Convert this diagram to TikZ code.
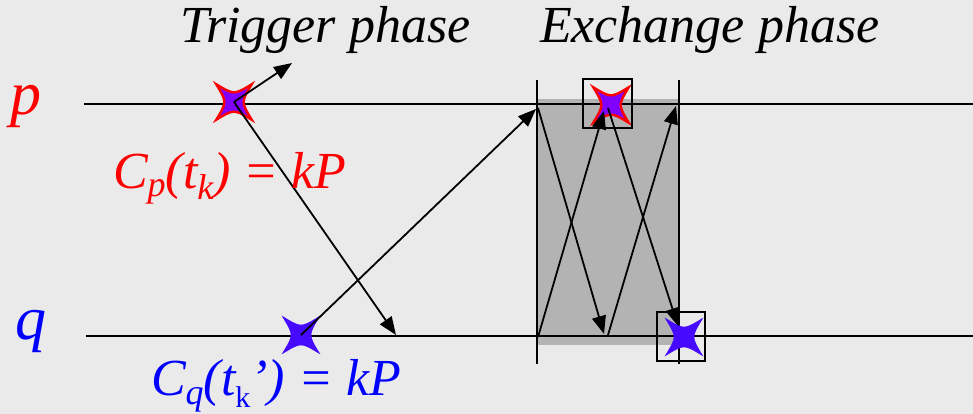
\documentclass[tikz,border=0pt]{standalone}
\usepackage{fontspec}
\setmainfont{LiberationSerif}[Extension=.ttf, UprightFont=*-Regular, ItalicFont=*-Italic, BoldFont=*-Bold]
\usetikzlibrary{arrows.meta}
\definecolor{bgmarble}{RGB}{234,234,234}
\definecolor{exgray}{RGB}{179,179,179}
\definecolor{starviolet}{RGB}{128,0,255}
\definecolor{starblue}{RGB}{70,10,255}
\definecolor{lblred}{RGB}{255,0,0}
\definecolor{lblblue}{RGB}{0,0,255}
\newcommand\subsc[2][10]{\raisebox{-#1pt}{\fontsize{36}{36}\selectfont #2}}
\tikzset{
  lbl/.style={inner sep=0pt, outer sep=0pt, anchor=base west},
  ttl/.style={lbl, font=\fontsize{52}{52}\selectfont\itshape},
  timeline/.style={line width=1.7pt},
  msg/.style={line width=1.8pt, -{Triangle[length=18pt,width=14pt]}},
  framebox/.style={line width=1.7pt},
  pics/star4/.style={code={
    \path[pic actions] (45:25) .. controls (0:7) and (0:7) .. (-45:25)
      .. controls (-90:7) and (-90:7) .. (-135:25)
      .. controls (180:7) and (180:7) .. (135:25)
      .. controls (90:7) and (90:7) .. cycle;}},
  redstar/.style={draw=red, fill=starviolet, line width=2.4pt, line join=miter},
  bluestar/.style={draw=starblue, fill=starblue, line width=1.2pt}
}
\begin{document}
\begin{tikzpicture}[x=1pt,y=-1pt]
\useasboundingbox (0,0) rectangle (973,414);
\fill[bgmarble] (0,0) rectangle (973,414);
% exchange area
\fill[exgray] (537,99) rectangle (679,345);
% coordinates
\coordinate (pL) at (84,104);
\coordinate (pR) at (973,104);
\coordinate (qL) at (86,336);
\coordinate (qR) at (973,336);
\coordinate (sp) at (234,102);
\coordinate (sq) at (301,335);
\coordinate (sx) at (611,105);
\coordinate (sy) at (684,337);
\coordinate (ptr) at (292,63);
\coordinate (qhit) at (396,335);
\coordinate (pex) at (536,109);
\coordinate (vLt) at (537,80);
\coordinate (vLb) at (537,364);
\coordinate (vRt) at (679,80);
\coordinate (vRb) at (679,364);
\coordinate (aStart1) at (538,108);
\coordinate (aEnd1) at (604,334);
\coordinate (aStart2) at (538,337);
\coordinate (aEnd2) at (604,111);
\coordinate (aStart3) at (608,335);
\coordinate (aEnd3) at (676,106);
\coordinate (aStart4) at (608,108);
\coordinate (aEnd4) at (678,326);
% time lines
\draw[timeline] (pL) -- (pR);
\draw[timeline] (qL) -- (qR);
\draw[timeline] (vLt) -- (vLb);
\draw[timeline] (vRt) -- (vRb);
% stars
\pic[redstar] at (sp) {star4};
\pic[bluestar] at (sq) {star4};
\pic[redstar] at (sx) {star4};
\pic[bluestar] at (sy) {star4};
% boxes
\draw[framebox] (583,79) rectangle (632,128);
\draw[framebox] (657,312) rectangle (705,361);
% messages
\draw[msg] (sp) -- (ptr);
\draw[msg] (sp) -- (qhit);
\draw[msg] (sq) -- (pex);
\draw[msg] (aStart1) -- (aEnd1);
\draw[msg] (aStart2) -- (aEnd2);
\draw[msg] (aStart3) -- (aEnd3);
\draw[msg] (aStart4) -- (aEnd4);
% labels
\node[ttl] (trig) at (180,43) {Trigger phase};
\node[ttl] (exch) at (540,43) {Exchange phase};
\node[lbl, text=lblred, font=\fontsize{62}{62}\selectfont\itshape] (plbl) at (10,115) {p};
\node[lbl, text=lblblue, font=\fontsize{62}{62}\selectfont\itshape] (qlbl) at (16,339) {q};
\node[lbl, text=lblred, font=\fontsize{52}{52}\selectfont\itshape] (cp) at (113,188)
  {C\subsc[9]{p}(t\subsc[11]{k}) = kP};
\node[lbl, text=lblblue, font=\fontsize{52}{52}\selectfont\itshape] (cq) at (151,395)
  {C\subsc[9]{q}(t\subsc[12]{\upshape\fontsize{30}{30}\selectfont k}’) = kP};
\end{tikzpicture}
\end{document}
